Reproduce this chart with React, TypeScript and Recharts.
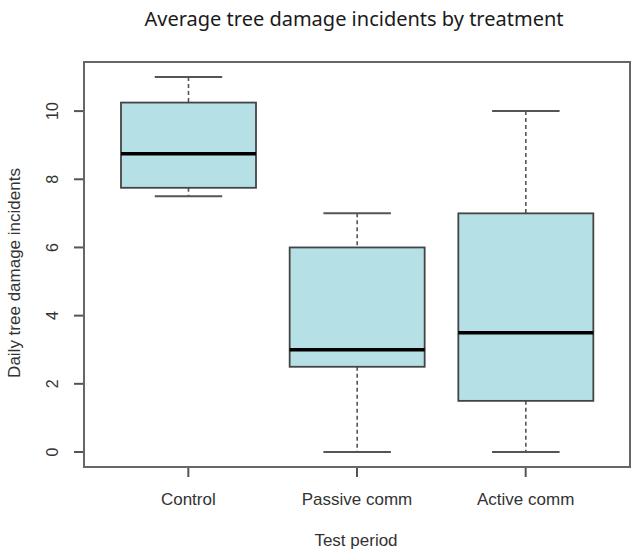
import { ComposedChart, Bar, XAxis, YAxis } from 'recharts';

// Boxplot summary per treatment
const categories = ['Control', 'Passive comm', 'Active comm'];
const whiskerLow = [7.5, 0, 0];
const lowerQuartile = [7.75, 2.5, 1.5];
const medians = [8.75, 3, 3.5];
const upperQuartile = [10.25, 6, 7];
const whiskerHigh = [11, 7, 10];
const yTicks = [0, 2, 4, 6, 8, 10];

const W = 633;
const H = 553;
const FONT = '"Liberation Sans", Arial, sans-serif';

const data = categories.map((name, i) => ({
  name,
  range: [whiskerLow[i], whiskerHigh[i]],
  q1: lowerQuartile[i],
  median: medians[i],
  q3: upperQuartile[i],
}));

/**
 * Draws one box + whiskers; the bar spans [min, max] so its pixel box
 * gives the y mapping for the quartiles.
 */
function BoxShape(props: any) {
  const { x, y, width, height, payload } = props;
  if (!payload) return null;
  const [lo, hi] = payload.range;
  const toY = (v: number) => y + ((hi - v) / (hi - lo)) * height;
  const cx = x + width / 2;
  const capHalf = width / 4;
  const yQ1 = toY(payload.q1);
  const yQ3 = toY(payload.q3);
  const yMed = toY(payload.median);
  const yLo = toY(lo);
  const yHi = toY(hi);

  return (
    <g>
      {/* whiskers */}
      <line x1={cx} x2={cx} y1={yHi} y2={yQ3} stroke="#555" strokeWidth={1.6} strokeDasharray="4 3" />
      <line x1={cx} x2={cx} y1={yQ1} y2={yLo} stroke="#555" strokeWidth={1.6} strokeDasharray="4 3" />
      <line x1={cx - capHalf} x2={cx + capHalf} y1={yHi} y2={yHi} stroke="#555" strokeWidth={2} />
      <line x1={cx - capHalf} x2={cx + capHalf} y1={yLo} y2={yLo} stroke="#555" strokeWidth={2} />
      {/* box */}
      <rect x={x} y={yQ3} width={width} height={yQ1 - yQ3} fill="#b4e0e6" stroke="#444" strokeWidth={1.8} />
      {/* median */}
      <line x1={x} x2={x + width} y1={yMed} y2={yMed} stroke="#000" strokeWidth={3.5} />
    </g>
  );
}

function YTick(props: any) {
  const { x, y, payload } = props;
  return (
    <text
      x={x}
      y={y}
      transform={`rotate(-90 ${x} ${y})`}
      textAnchor="middle"
      fontFamily={FONT}
      fontSize={16}
      fill="#333"
    >
      {payload.value}
    </text>
  );
}

function XTick(props: any) {
  const { x, y, payload } = props;
  return (
    <text x={x} y={y} textAnchor="middle" fontFamily={FONT} fontSize={17} fill="#333">
      {payload.value}
    </text>
  );
}

export default function App() {
  return (
    <div style={{ position: 'absolute', left: 0, top: 0, width: W, height: H, background: '#fff' }}>
      <ComposedChart
        width={W}
        height={H}
        data={data}
        margin={{ top: 62, right: 3, bottom: 0, left: 0 }}
      >
        <XAxis
          dataKey="name"
          height={86}
          padding={{ left: 20, right: 20 }}
          axisLine={false}
          tickSize={10}
          tickMargin={28}
          tickLine={{ stroke: '#555', strokeWidth: 2 }}
          tick={<XTick />}
        />
        <YAxis
          type="number"
          width={84}
          domain={[-0.44, 11.44]}
          ticks={yTicks}
          allowDataOverflow
          axisLine={false}
          tickSize={10}
          tickMargin={16}
          tickLine={{ stroke: '#555', strokeWidth: 2 }}
          tick={<YTick />}
        />
        <Bar dataKey="range" barSize={135} shape={<BoxShape />} isAnimationActive={false} />
      </ComposedChart>

      {/* frame, title and axis titles */}
      <svg
        width={W}
        height={H}
        style={{ position: 'absolute', left: 0, top: 0, pointerEvents: 'none' }}
      >
        <rect x={84} y={62} width={546} height={405} fill="none" stroke="#666" strokeWidth={2} />
        <text
          x={354}
          y={26}
          textAnchor="middle"
          fontFamily='"Noto Sans", sans-serif'
          fontSize={20}
          fill="#1a1a1a"
        >
          Average tree damage incidents by treatment
        </text>
        <text
          x={20}
          y={273}
          transform="rotate(-90 20 273)"
          textAnchor="middle"
          fontFamily={FONT}
          fontSize={17}
          fill="#333"
        >
          Daily tree damage incidents
        </text>
        <text x={356} y={546} textAnchor="middle" fontFamily={FONT} fontSize={17} fill="#333">
          Test period
        </text>
      </svg>
    </div>
  );
}
